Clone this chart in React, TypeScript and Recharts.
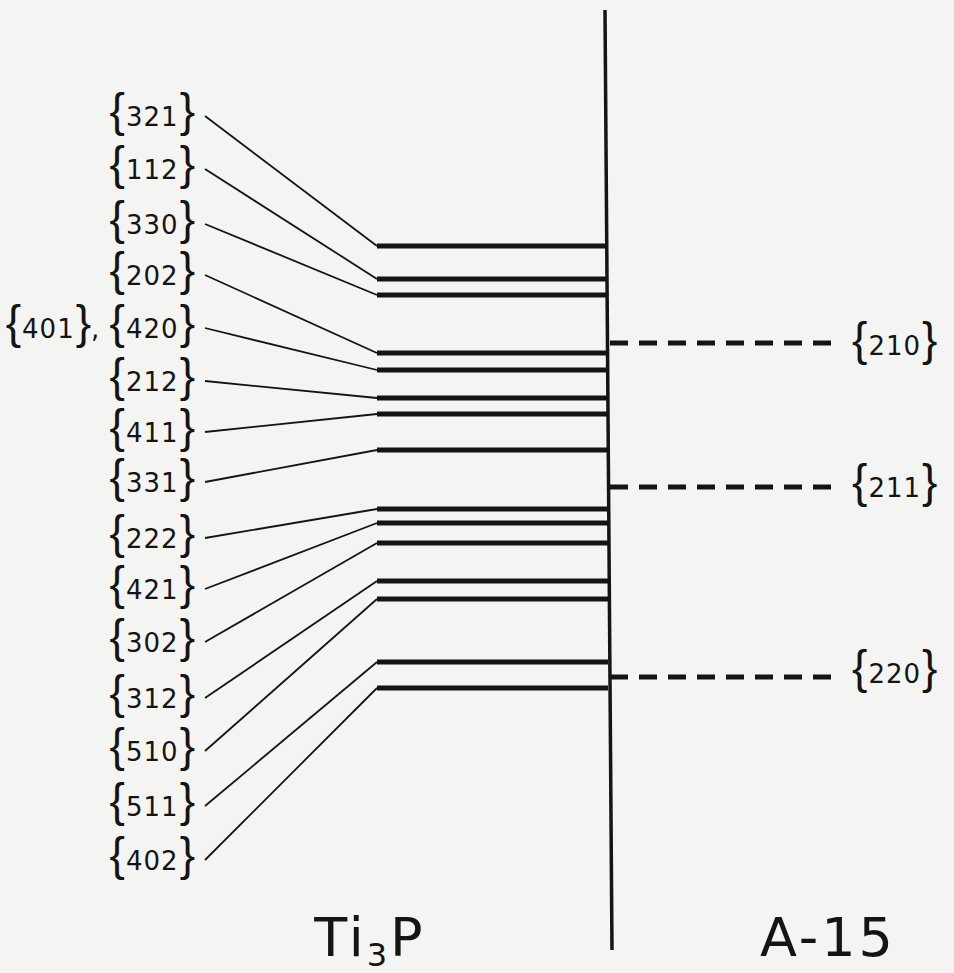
import React from 'react';
import { ComposedChart, Line, Scatter, XAxis, YAxis } from 'recharts';

// ---- Diagram data (diagram units: horizontal position / vertical position) ----
// Ti3P reflections (left column), with their label rows and their line positions
const ti3pReflections: string[][] = [
  ['321'], ['112'], ['330'], ['202'], ['401', '420'], ['212'], ['411'], ['331'],
  ['222'], ['421'], ['302'], ['312'], ['510'], ['511'], ['402'],
];
const ti3pLabelRow: number[] = [116, 169, 224, 275, 328, 381, 432, 482, 538, 589, 642, 698, 751, 806, 860];
const ti3pLevel: number[] = [246, 279, 295, 353, 370, 398, 414, 450, 509, 523, 543, 581, 599, 662, 688];

// A-15 reflections (right column)
const a15Reflections: string[] = ['210', '211', '220'];
const a15Level: number[] = [343, 487, 677];
const a15LabelRow: number[] = [345, 487, 673];

// Column titles
const columnTitles: string[] = ['Ti3P', 'A-15'];

// Column positions on the horizontal scale
const LABEL_END = 205;
const LEVEL_START = 377;
const DIVIDER = 608;
const A15_END = 842;
const A15_LABEL = 852;
const titleX: number[] = [370, 828];
const TITLE_ROW = 956;
const dividerTop = { x: 605, y: 10 };
const dividerBottom = { x: 612, y: 950 };

const W = 954;
const H = 973;
const INK = '#141414';

const leaderData = ti3pReflections.map((_, i) => [
  { x: LABEL_END, y: ti3pLabelRow[i] },
  { x: LEVEL_START, y: ti3pLevel[i] },
]);
const levelData = ti3pLevel.map((v) => [
  { x: LEVEL_START, y: v },
  { x: DIVIDER, y: v },
]);
const a15Data = a15Level.map((v) => [
  { x: DIVIDER + 2, y: v },
  { x: A15_END, y: v },
]);
const leftLabelData = ti3pReflections.map((hkl, i) => ({ x: LABEL_END - 10, y: ti3pLabelRow[i], hkl }));
const rightLabelData = a15Reflections.map((h, i) => ({ x: A15_LABEL, y: a15LabelRow[i], hkl: [h] }));
const titleData = columnTitles.map((t, i) => ({ x: titleX[i], y: TITLE_ROW, title: t }));

const braceStyle = { fontFamily: '"Liberation Sans", Arial, sans-serif', fontSize: 46 };
const digitStyle = { fontFamily: '"DejaVu Sans", sans-serif', fontSize: 26, letterSpacing: 1 };

function braceParts(list: string[]) {
  const out: React.ReactNode[] = [];
  list.forEach((h, k) => {
    if (k > 0) out.push(<tspan key={'c' + k} style={digitStyle}>{', '}</tspan>);
    out.push(<tspan key={'l' + k} style={braceStyle}>{'{'}</tspan>);
    out.push(<tspan key={'d' + k} style={digitStyle} dx={1}>{h}</tspan>);
    out.push(<tspan key={'r' + k} style={braceStyle} dx={1}>{'}'}</tspan>);
  });
  return out;
}

const LeftLabel = (props: any) => {
  const { cx, cy, payload } = props;
  return (
    <text x={cx} y={cy + 9.5} textAnchor="end" fill={INK}>
      {braceParts(payload.hkl)}
    </text>
  );
};

const RightLabel = (props: any) => {
  const { cx, cy, payload } = props;
  return (
    <text x={cx} y={cy + 9.5} textAnchor="start" fill={INK}>
      {braceParts(payload.hkl)}
    </text>
  );
};

const Title = (props: any) => {
  const { cx, cy, payload } = props;
  const style = { fontFamily: '"DejaVu Sans", sans-serif', fontSize: 54, letterSpacing: 3 };
  if (payload.title === 'Ti3P') {
    return (
      <text x={cx} y={cy} textAnchor="middle" fill={INK} style={style}>
        Ti
        <tspan fontSize={32} dy={10}>3</tspan>
        <tspan dy={-10}>P</tspan>
      </text>
    );
  }
  return (
    <text x={cx} y={cy} textAnchor="middle" fill={INK} style={style}>
      {payload.title}
    </text>
  );
};

export default function App() {
  return (
    <div style={{ position: 'absolute', left: 0, top: 0, width: W, height: H, background: '#f4f4f2' }}>
      <ComposedChart width={W} height={H} margin={{ top: 0, right: 0, bottom: 0, left: 0 }}>
        <XAxis type="number" dataKey="x" domain={[0, W]} allowDataOverflow hide />
        <YAxis type="number" dataKey="y" domain={[0, H]} reversed allowDataOverflow hide />

        <Line
          data={[dividerTop, dividerBottom]}
          dataKey="y"
          stroke={INK}
          strokeWidth={3.5}
          dot={false}
          activeDot={false}
          isAnimationActive={false}
        />

        {leaderData.map((d, i) => (
          <Line
            key={'lead' + i}
            data={d}
            dataKey="y"
            stroke={INK}
            strokeWidth={1.8}
            dot={false}
            activeDot={false}
            isAnimationActive={false}
          />
        ))}

        {levelData.map((d, i) => (
          <Line
            key={'lvl' + i}
            data={d}
            dataKey="y"
            stroke={INK}
            strokeWidth={5}
            dot={false}
            activeDot={false}
            isAnimationActive={false}
          />
        ))}

        {a15Data.map((d, i) => (
          <Line
            key={'a15' + i}
            data={d}
            dataKey="y"
            stroke={INK}
            strokeWidth={5}
            strokeDasharray="18 11"
            dot={false}
            activeDot={false}
            isAnimationActive={false}
          />
        ))}

        <Scatter data={leftLabelData} dataKey="y" shape={LeftLabel} isAnimationActive={false} />
        <Scatter data={rightLabelData} dataKey="y" shape={RightLabel} isAnimationActive={false} />
        <Scatter data={titleData} dataKey="y" shape={Title} isAnimationActive={false} />
      </ComposedChart>
    </div>
  );
}
